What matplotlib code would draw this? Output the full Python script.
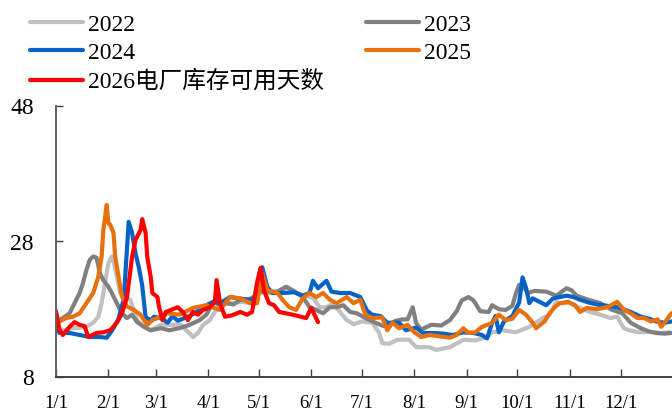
import matplotlib
matplotlib.use("Agg")
import matplotlib.pyplot as plt

plt.rcParams['font.family'] = ['Liberation Serif', 'Noto Sans CJK SC']

# day-of-year (0 = 1/1) and available-days values for each year
days_2022 = [0, 4, 10, 18, 22, 25, 27, 29, 31, 33, 34, 36, 38, 40, 44, 46, 48, 52, 56, 62,
             70, 74, 77, 80, 81, 84, 87, 91, 94, 97, 102, 105, 110, 115, 121, 125, 131, 137,
             142, 147, 152, 156, 160, 164, 168, 172, 176, 181, 187, 191, 193, 197, 202, 209,
             213, 221, 225, 233, 241, 248, 251, 255, 258, 264, 272, 280, 288, 292, 296, 298,
             304, 310, 316, 322, 328, 332, 334, 336, 339, 345, 351, 357, 363]
vals_2022 = [15.4, 14.9, 15.2, 15.4, 16.0, 16.9, 18.9, 21.9, 24.8, 25.8, 25.2, 22.8, 20.4,
             19.8, 19.4, 17.9, 16.4, 15.4, 14.9, 15.7, 15.7, 15.7, 14.9, 14.2, 13.9, 14.5,
             15.7, 16.4, 17.6, 18.6, 18.9, 18.9, 19.1, 18.9, 20.8, 20.4, 20.4, 21.3, 20.4,
             20.0, 19.7, 18.3, 18.3, 18.9, 17.6, 16.4, 15.8, 16.2, 16.0, 14.6, 13.0, 12.9,
             13.5, 13.5, 12.4, 12.4, 12.0, 12.4, 13.5, 13.4, 13.6, 13.9, 14.6, 14.9, 14.6,
             15.4, 16.7, 17.2, 19.1, 18.9, 18.9, 18.2, 17.6, 17.2, 16.7, 16.9, 16.0, 15.2,
             14.9, 14.6, 14.7, 14.5, 14.6]

days_2023 = [0, 4, 8, 11, 14, 16, 18, 20, 22, 24, 26, 28, 31, 33, 36, 39, 42, 45, 48, 52,
             56, 62, 67, 73, 79, 85, 89, 93, 96, 101, 105, 109, 113, 116, 121, 126, 131, 136,
             140, 146, 150, 154, 158, 162, 166, 170, 174, 178, 183, 189, 194, 201, 205, 208,
             211, 213, 216, 222, 228, 233, 237, 240, 244, 247, 251, 256, 258, 262, 266, 270,
             272, 274, 277, 279, 283, 290, 296, 302, 305, 308, 315, 322, 329, 335, 340, 346,
             351, 355, 360, 364]
vals_2023 = [16.1, 16.7, 17.4, 18.9, 20.4, 21.9, 23.8, 25.3, 25.8, 25.6, 23.3, 22.3, 21.3,
             20.4, 18.9, 17.4, 16.7, 17.2, 16.1, 15.4, 14.9, 15.2, 14.9, 15.2, 15.7, 16.4,
             17.2, 19.1, 18.7, 18.9, 18.7, 19.4, 19.3, 19.7, 20.5, 20.6, 20.6, 21.3, 20.8,
             19.8, 18.3, 17.9, 17.4, 18.3, 18.3, 18.6, 17.6, 17.4, 16.7, 16.0, 15.5, 16.3,
             16.5, 16.5, 18.3, 16.0, 15.0, 15.7, 15.6, 16.4, 17.7, 19.3, 19.8, 19.3, 17.7,
             17.6, 18.6, 18.0, 17.9, 18.5, 20.3, 21.6, 21.2, 20.4, 20.7, 20.6, 20.0, 21.1,
             20.8, 20.0, 19.4, 18.9, 17.9, 17.4, 16.0, 15.2, 14.7, 14.5, 14.4, 14.5]

days_2024 = [0, 2, 8, 14, 20, 26, 30, 33, 37, 40, 41, 42, 43, 45, 47, 49, 51, 53, 56, 58,
             63, 66, 69, 72, 79, 85, 89, 93, 97, 103, 108, 115, 119, 122, 125, 128, 134, 141,
             146, 150, 152, 155, 160, 163, 168, 174, 180, 184, 187, 192, 196, 203, 207, 213,
             217, 223, 229, 235, 241, 247, 252, 255, 258, 260, 262, 265, 270, 274, 276, 278,
             280, 282, 286, 290, 294, 298, 302, 306, 310, 315, 320, 326, 332, 340, 346, 351,
             355, 360, 364]
vals_2024 = [16.0, 14.5, 14.5, 14.2, 13.9, 13.9, 13.8, 14.8, 16.6, 19.4, 23.0, 27.0, 30.9,
             29.3, 26.3, 24.2, 21.5, 16.8, 16.4, 16.9, 16.6, 16.0, 17.0, 16.3, 17.0, 17.9,
             18.6, 19.1, 18.9, 19.8, 19.6, 19.4, 19.7, 24.2, 21.3, 20.4, 20.4, 20.5, 20.0,
             20.4, 22.2, 21.1, 22.2, 20.6, 20.4, 20.4, 19.8, 17.8, 17.2, 17.0, 16.0, 16.0,
             14.9, 15.3, 14.5, 14.5, 14.4, 14.2, 14.6, 14.5, 14.2, 13.7, 16.0, 17.0, 14.6,
             16.2, 17.0, 19.0, 22.7, 21.2, 18.9, 19.6, 19.1, 18.6, 19.6, 19.8, 20.0, 19.8,
             19.4, 19.0, 18.7, 18.5, 18.3, 17.6, 16.9, 16.6, 16.2, 16.0, 16.2]

days_2025 = [0, 2, 6, 10, 14, 18, 22, 25, 27, 28, 30, 31, 32, 34, 35, 37, 39, 42, 46, 50,
             54, 57, 60, 66, 73, 81, 89, 97, 103, 109, 115, 119, 122, 125, 131, 134, 138, 142,
             146, 150, 154, 158, 162, 166, 172, 176, 180, 183, 187, 193, 196, 199, 203, 208,
             212, 216, 221, 227, 233, 237, 241, 244, 248, 252, 258, 262, 266, 270, 274, 278,
             282, 284, 289, 292, 295, 298, 303, 307, 310, 314, 320, 326, 332, 336, 340, 344,
             348, 352, 356, 358, 360, 364]
vals_2025 = [16.9, 16.2, 16.7, 16.9, 17.4, 18.9, 20.4, 22.8, 25.8, 29.7, 33.4, 30.7, 30.5,
             29.3, 25.8, 22.8, 19.9, 18.4, 17.9, 17.2, 15.7, 16.4, 16.7, 17.4, 17.2, 18.2,
             18.6, 17.9, 19.8, 19.6, 18.9, 18.9, 23.3, 20.8, 20.4, 19.4, 18.3, 17.9, 19.6,
             20.4, 19.8, 20.4, 19.4, 18.9, 19.8, 18.9, 19.4, 17.2, 16.7, 16.8, 14.9, 16.0,
             15.2, 15.7, 14.6, 13.9, 14.2, 14.0, 13.8, 14.2, 15.2, 14.5, 14.6, 15.4, 16.0,
             17.2, 16.4, 16.6, 17.9, 17.2, 16.0, 15.2, 16.2, 17.4, 18.3, 18.9, 19.1, 18.6,
             17.6, 18.2, 18.0, 18.3, 19.1, 17.9, 17.4, 16.7, 16.7, 16.2, 16.5, 15.4, 16.0,
             17.4]

days_2026 = [0, 2, 4, 8, 11, 14, 17, 19, 24, 28, 32, 36, 39, 42, 45, 47, 50, 51, 53, 54,
             56, 57, 60, 61, 63, 65, 69, 72, 75, 78, 81, 84, 87, 91, 94, 95, 97, 100, 104,
             109, 113, 116, 119, 121, 123, 126, 129, 132, 140, 148, 151, 155]
vals_2026 = [17.7, 15.0, 14.2, 15.4, 16.1, 15.7, 15.5, 13.9, 14.5, 14.6, 14.9, 16.0, 17.4,
             19.8, 25.7, 28.2, 29.7, 31.3, 29.3, 25.7, 22.8, 20.4, 19.8, 18.3, 16.4, 17.6,
             18.0, 18.3, 17.6, 16.4, 17.6, 17.2, 17.9, 18.3, 19.1, 22.3, 18.9, 16.9, 17.1,
             17.6, 17.2, 17.6, 22.0, 24.1, 20.8, 18.9, 18.6, 17.6, 17.2, 16.7, 18.2, 16.1]

month_starts = [0, 31, 59, 90, 120, 151, 181, 212, 243, 273, 304, 334]
month_labels = ['1/1', '2/1', '3/1', '4/1', '5/1', '6/1', '7/1', '8/1', '9/1', '10/1',
                '11/1', '12/1']
y_ticks = [8, 28, 48]

series = [
    ('2022', days_2022, vals_2022, '#C0C0C0'),
    ('2023', days_2023, vals_2023, '#808080'),
    ('2024', days_2024, vals_2024, '#0563C8'),
    ('2025', days_2025, vals_2025, '#E8710E'),
    ('2026电厂库存可用天数', days_2026, vals_2026, '#FF0000'),
]

W, H = 672, 412
fig = plt.figure(figsize=(W / 100, H / 100), dpi=100)
ax = fig.add_axes([56 / W, 35 / H, 617 / W, 271 / H])

handles = {}
for name, d, v, c in series:
    ln, = ax.plot(d, v, color=c, lw=3.0, solid_joinstyle='round', solid_capstyle='round',
                  label=name)
    handles[name] = ln

ax.set_xlim(0, 365)
ax.set_ylim(8, 48)
ax.set_xticks(month_starts)
ax.set_xticklabels(month_labels, fontsize=13.5)
ax.set_yticks(y_ticks)
ax.set_yticklabels([str(t) for t in y_ticks], fontsize=17)
ax.tick_params(axis='x', direction='in', length=5.5, width=1, color='#404040', pad=13)
ax.tick_params(axis='y', direction='in', length=5, width=1, color='#404040', pad=16)

for s in ('top', 'right'):
    ax.spines[s].set_visible(False)
ax.spines['left'].set_color('#606060')
ax.spines['left'].set_linewidth(1.4)
ax.spines['bottom'].set_color('#404040')
ax.spines['bottom'].set_linewidth(1.4)

order = ['2022', '2024', '2026电厂库存可用天数', '2023', '2025']
leg = ax.legend([handles[k] for k in order], order, ncol=2, frameon=False,
                loc='upper left', bbox_to_anchor=(30 / W, 1 - 14 / H),
                bbox_transform=fig.transFigure, fontsize=17, handlelength=2.25,
                handletextpad=0.2, columnspacing=1.8, labelspacing=0.28,
                borderpad=0, borderaxespad=0)

fig.savefig('out.png', dpi=100)
